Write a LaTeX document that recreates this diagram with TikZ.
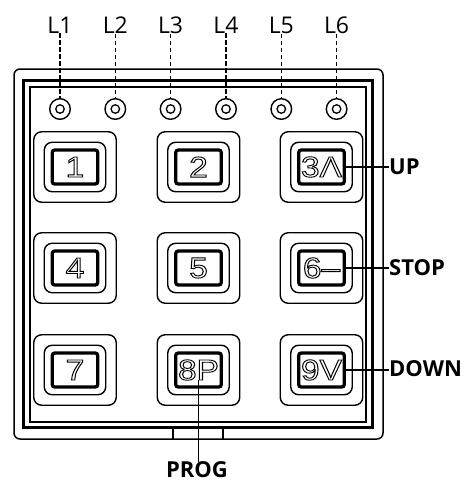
\documentclass[tikz,border=0pt]{standalone}
\usepackage{graphicx}
\usepackage{fontspec}
\setmainfont{Open Sans}
\newfontfamily\keyfont{Liberation Sans}
\newcommand{\kd}[1]{\scalebox{1.15}[1]{\special{pdf:code q 1 Tr 0.9 w 0 0 0 RG}#1\special{pdf:code Q}}}
\begin{document}
\begin{tikzpicture}[x=1pt,y=-1pt,
  casebox/.style={draw,line width=1.5pt,rounded corners=6pt},
  frameout/.style={draw,line width=2.8pt},
  framein/.style={draw,line width=2pt},
  keyout/.style={draw,line width=1.4pt,rounded corners=8pt,minimum width=82.5pt,minimum height=70.5pt,inner sep=0pt},
  keymid/.style={draw,line width=1.4pt,rounded corners=8pt,minimum width=61.5pt,minimum height=49.5pt,inner sep=0pt},
  keyin/.style={draw,line width=3.3pt,rounded corners=2.5pt,minimum width=45.5pt,minimum height=34pt,inner sep=0pt},
  keytext/.style={inner sep=0pt,font=\keyfont\fontsize{29}{29}\selectfont},
  ledout/.style={draw,circle,line width=1.4pt,minimum size=20.6pt,inner sep=0pt},
  ledin/.style={draw,circle,line width=1.3pt,minimum size=8.5pt,inner sep=0pt},
  llabel/.style={inner sep=0pt,font=\fontsize{23}{23}\selectfont},
  blabel/.style={inner sep=0pt,font=\bfseries\fontsize{22}{22}\selectfont},
  ledline/.style={line width=1.4pt,dash pattern=on 4.5pt off 2.5pt},
  conn/.style={line width=1.5pt}]
\useasboundingbox (0,0) rectangle (467,483);
% case
\path[casebox] (14,69) rectangle (383,439);
\path[frameout] (23.5,80.5) rectangle (372.5,427.5);
\path[framein] (30,86.5) rectangle (366,421.5);
\draw[line width=1.3pt] (173,428.5) -- (173,439);
\draw[line width=1.3pt] (223,428.5) -- (223,439);
% LEDs and labels
\foreach \i/\x in {1/60,2/115.3,3/170.6,4/226,5/281.3,6/336.6}{
  \node[ledout] (led\i) at (\x,109) {};
  \node[ledin] (ledc\i) at (\x,109) {};
  \node[llabel] (L\i) at (\x,25) {L\i};
  \draw[ledline] (L\i.south) -- (led\i.north);
}
% keys
\foreach \n/\x/\y/\t in {1/75/167/1,2/198.5/167/2,3/321.5/167/3Λ,
                         4/75/268/4,5/198.5/268/5,6/321.5/268/6–,
                         7/75/370/7,8/198.5/370/8P,9/321.5/370/9V}{
  \node[keyout] (ko\n) at (\x,\y) {};
  \node[keymid] (km\n) at (\x,\y) {};
  \node[keyin] (ki\n) at (\x,\y) {};
  \node[keytext] (kt\n) at (\x,\y) {\kd{\t}};
}
% function labels
\node[blabel,anchor=west] (up) at (389,167) {UP};
\node[blabel,anchor=west] (stop) at (389,268) {STOP};
\node[blabel,anchor=west] (down) at (389,369) {DOWN};
\node[blabel] (prog) at (197,470) {PROG};
\draw[conn] (ki3.east) -- (up.west);
\draw[conn] (ki6.east) -- (ki6.east -| stop.west);
\draw[conn] (ki9.east) -- (ki9.east -| down.west);
\draw[conn] (kt8.south) -- (kt8.south |- prog.north);
\end{tikzpicture}
\end{document}
